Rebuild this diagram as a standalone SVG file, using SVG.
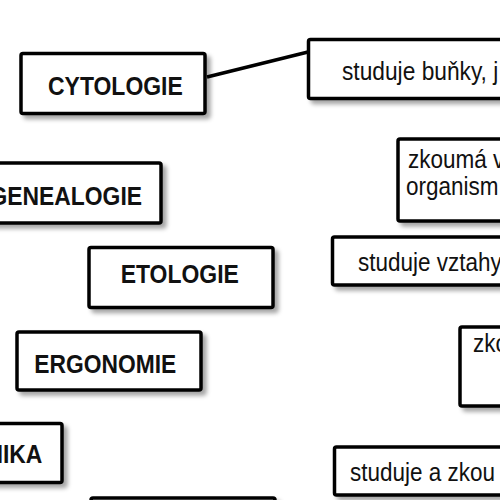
<svg xmlns="http://www.w3.org/2000/svg" width="500" height="500" viewBox="0 0 500 500">
<defs>
<filter id="sh" x="-20%" y="-20%" width="150%" height="150%">
<feDropShadow dx="4" dy="4" stdDeviation="2" flood-color="#000" flood-opacity="0.35"/>
</filter>
</defs>
<style>
.box{fill:#fff;stroke:#000;stroke-width:3.5;filter:url(#sh)}
.b{font-family:"Liberation Sans",Arial,sans-serif;font-weight:bold;font-size:26px;fill:#111}
.r{font-family:"Liberation Sans",Arial,sans-serif;font-size:25px;fill:#111}
.conn{stroke:#000;stroke-width:3.5;fill:none}
</style>
<rect width="500" height="500" fill="#fff"/>
<g id="connectors">
<line class="conn" x1="207" y1="77" x2="308" y2="52"/>
</g>
<g id="cytologie">
<rect class="box" x="21" y="53.5" width="184" height="60" rx="2"/>
<text class="b" x="48" y="94.5" textLength="134.8" lengthAdjust="spacingAndGlyphs">CYTOLOGIE</text>
</g>
<g id="genealogie">
<rect class="box" x="-20" y="163" width="181" height="60" rx="2"/>
<text class="b" x="-10.6" y="205" textLength="152.6" lengthAdjust="spacingAndGlyphs">GENEALOGIE</text>
</g>
<g id="etologie">
<rect class="box" x="89" y="247.5" width="184" height="60" rx="2"/>
<text class="b" x="120.7" y="283.3" textLength="118.2" lengthAdjust="spacingAndGlyphs">ETOLOGIE</text>
</g>
<g id="ergonomie">
<rect class="box" x="17" y="332" width="184" height="58" rx="2"/>
<text class="b" x="34.3" y="372.7" textLength="141.9" lengthAdjust="spacingAndGlyphs">ERGONOMIE</text>
</g>
<g id="nika">
<rect class="box" x="-120" y="423.5" width="182" height="59" rx="2"/>
<text class="b" x="-13.6" y="463.3" textLength="55.9" lengthAdjust="spacingAndGlyphs">NIKA</text>
</g>
<g id="bottom">
<rect class="box" x="91" y="498" width="184" height="60" rx="2"/>
</g>
<g id="def1">
<rect class="box" x="308.5" y="39.5" width="250" height="59" rx="2"/>
<text class="r" x="342" y="80" textLength="156.3" lengthAdjust="spacingAndGlyphs">studuje buňky, j</text>
</g>
<g id="def2">
<rect class="box" x="398" y="139" width="150" height="82" rx="2"/>
<text class="r" x="408" y="168" textLength="96.3" lengthAdjust="spacingAndGlyphs">zkoumá v</text>
<text class="r" x="406" y="195" textLength="92.5" lengthAdjust="spacingAndGlyphs">organism</text>
</g>
<g id="def3">
<rect class="box" x="332.5" y="237" width="200" height="48" rx="2"/>
<text class="r" x="358" y="271" textLength="143.8" lengthAdjust="spacingAndGlyphs">studuje vztahy</text>
</g>
<g id="def4">
<rect class="box" x="460" y="327" width="100" height="79" rx="2"/>
<text class="r" x="473" y="352" textLength="35" lengthAdjust="spacingAndGlyphs">zko</text>
</g>
<g id="def5">
<rect class="box" x="334.5" y="447" width="200" height="48" rx="2"/>
<text class="r" x="350" y="481" textLength="145" lengthAdjust="spacingAndGlyphs">studuje a zkou</text>
</g>
</svg>
